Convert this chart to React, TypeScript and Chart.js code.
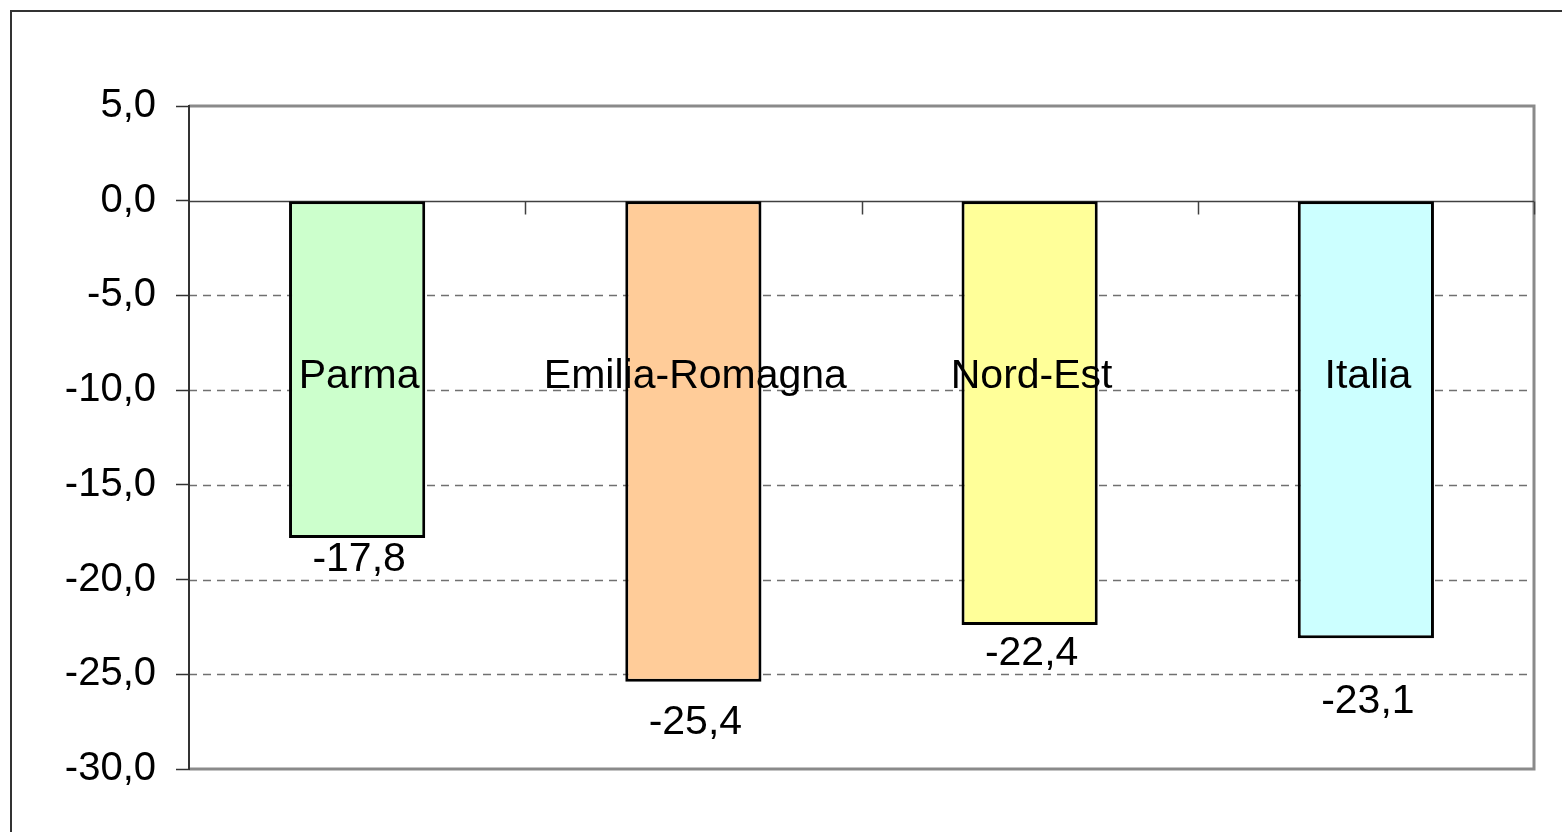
import React, { useEffect, useRef } from "react";
import { Chart, registerables } from "chart.js";

Chart.register(...registerables);

const categories = ["Parma", "Emilia-Romagna", "Nord-Est", "Italia"];
const values = [-17.8, -25.4, -22.4, -23.1];
const valueLabels = ["-17,8", "-25,4", "-22,4", "-23,1"];
const barColors = ["#CCFFCC", "#FFCC99", "#FFFF99", "#CCFFFF"];
const yMin = -30;
const yMax = 5;
const yStep = 5;
const categoryLabelValue = -9.3;
const valueLabelGap = [22, 41, 29, 63];

const FONT = "'Liberation Sans', Arial, sans-serif";
const TICK_FONT_SIZE = 40;
const LABEL_FONT_SIZE = 41;

const decorPlugin = {
  id: "decor",
  beforeDatasetsDraw(chart: any) {
    const { ctx, chartArea } = chart;
    const y = chart.scales.y;
    const { left, right, top, bottom } = chartArea;
    ctx.save();
    ctx.strokeStyle = "#707070";
    ctx.lineWidth = 1.5;
    ctx.setLineDash([8, 6]);
    for (let v = yMin + yStep; v < 0; v += yStep) {
      const py = Math.round(y.getPixelForValue(v)) + 0.5;
      ctx.beginPath();
      ctx.moveTo(left, py);
      ctx.lineTo(right, py);
      ctx.stroke();
    }
    ctx.setLineDash([]);
    ctx.strokeStyle = "#8a8a8a";
    ctx.lineWidth = 3;
    ctx.beginPath();
    ctx.moveTo(left, top);
    ctx.lineTo(right, top);
    ctx.lineTo(right, bottom);
    ctx.lineTo(left, bottom);
    ctx.stroke();
    const zy = Math.round(y.getPixelForValue(0)) + 0.5;
    ctx.strokeStyle = "#404040";
    ctx.lineWidth = 1.5;
    ctx.beginPath();
    ctx.moveTo(left, zy);
    ctx.lineTo(right, zy);
    ctx.stroke();
    const n = categories.length;
    const w = (right - left) / n;
    for (let i = 1; i <= n; i++) {
      const px = Math.round(left + w * i) + 0.5;
      ctx.beginPath();
      ctx.moveTo(px, zy);
      ctx.lineTo(px, zy + 13);
      ctx.stroke();
    }
    ctx.strokeStyle = "#333333";
    ctx.lineWidth = 2;
    ctx.beginPath();
    ctx.moveTo(left, top - 1);
    ctx.lineTo(left, bottom + 1);
    ctx.stroke();
    ctx.restore();
  },
  afterDatasetsDraw(chart: any) {
    const { ctx } = chart;
    const y = chart.scales.y;
    const x = chart.scales.x;
    ctx.save();
    ctx.fillStyle = "#000";
    ctx.font = `${LABEL_FONT_SIZE}px ${FONT}`;
    ctx.textAlign = "center";
    ctx.textBaseline = "middle";
    categories.forEach((c, i) => {
      const px = x.getPixelForValue(i) + 2;
      ctx.fillText(c, px, y.getPixelForValue(categoryLabelValue));
      ctx.fillText(valueLabels[i], px, y.getPixelForValue(values[i]) + valueLabelGap[i]);
    });
    ctx.restore();
  },
  afterDraw(chart: any) {
    const { ctx } = chart;
    ctx.save();
    ctx.strokeStyle = "#333333";
    ctx.lineWidth = 2;
    ctx.beginPath();
    ctx.moveTo(11, 900);
    ctx.lineTo(11, 11);
    ctx.lineTo(1600, 11);
    ctx.stroke();
    ctx.restore();
  },
};

export default function App() {
  const ref = useRef<HTMLCanvasElement>(null);
  useEffect(() => {
    document.body.style.margin = "0";
    const chart = new Chart(ref.current!, {
      type: "bar",
      data: {
        labels: categories,
        datasets: [
          {
            data: values,
            backgroundColor: barColors,
            borderColor: "#000000",
            borderWidth: 3,
            borderSkipped: false,
            barPercentage: 0.405,
            categoryPercentage: 1,
          },
        ],
      },
      options: {
        animation: false,
        responsive: false,
        maintainAspectRatio: false,
        layout: { padding: { left: 0, right: 28, top: 106, bottom: 63 } },
        plugins: { legend: { display: false }, tooltip: { enabled: false }, title: { display: false } },
        scales: {
          x: {
            display: true,
            ticks: { display: false },
            grid: { display: false },
            border: { display: false },
            afterFit(scale: any) {
              scale.height = 0;
            },
          },
          y: {
            min: yMin,
            max: yMax,
            ticks: {
              stepSize: yStep,
              color: "#000",
              padding: 20,
              font: { family: FONT, size: TICK_FONT_SIZE },
              callback: (v: any) => Number(v).toFixed(1).replace(".", ","),
            },
            grid: {
              drawOnChartArea: false,
              drawTicks: true,
              tickLength: 13,
              tickColor: "#333333",
              tickWidth: 1.5,
            },
            border: { display: false },
            afterFit(scale: any) {
              scale.width = 189;
            },
          },
        },
      },
      plugins: [decorPlugin],
    });
    return () => chart.destroy();
  }, []);
  return (
    <div style={{ position: "relative", width: 1562, height: 832 }}>
      <canvas ref={ref} width={1562} height={832} style={{ width: 1562, height: 832, display: "block" }} />
    </div>
  );
}
